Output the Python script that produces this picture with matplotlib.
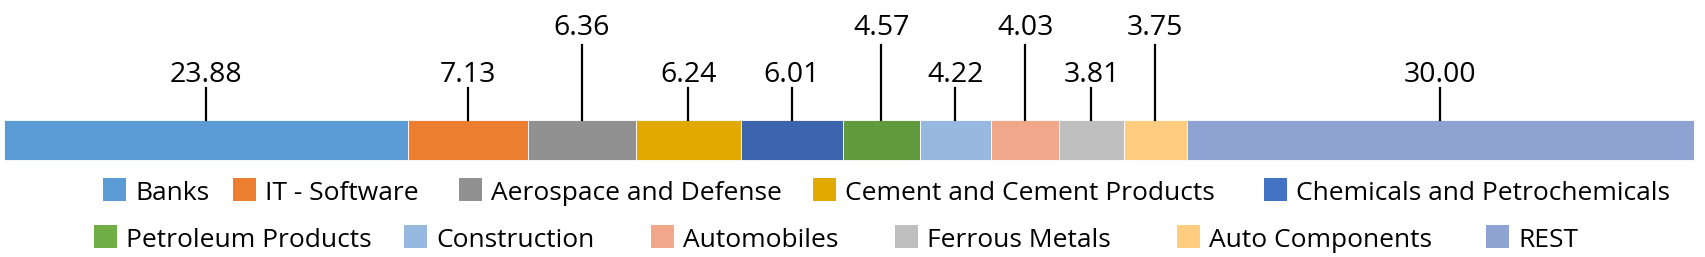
import matplotlib.pyplot as plt
from matplotlib.patches import Rectangle

plt.rcParams['font.family'] = ['Open Sans', 'DejaVu Sans']

# Data
sectors = ['Banks', 'IT - Software', 'Aerospace and Defense', 'Cement and Cement Products',
           'Chemicals and Petrochemicals', 'Petroleum Products', 'Construction',
           'Automobiles', 'Ferrous Metals', 'Auto Components', 'REST']
weights = [23.88, 7.13, 6.36, 6.24, 6.01, 4.57, 4.22, 4.03, 3.81, 3.75, 30.00]

bar_colors = ['#5B9BD5', '#ED7D31', '#919191', '#E2AA00', '#3D65AE', '#629B3E',
              '#98B9DF', '#F1A78A', '#BFBFBF', '#FFCC80', '#8FA3D3']
legend_colors = ['#5B9BD5', '#ED7D31', '#919191', '#E2AA00', '#4472C4', '#70AD47',
                 '#98B9DF', '#F1A78A', '#BFBFBF', '#FFCC80', '#8FA3D3']
high_label = [False, False, True, False, False, True, False, True, False, True, False]

# legend layout (pixels): left edge of each swatch, and row
legend_x = [103, 233, 459, 813, 1264, 94, 404, 651, 895, 1177, 1486]
legend_row = [0, 0, 0, 0, 0, 1, 1, 1, 1, 1, 1]

W, H = 1705, 257
fig = plt.figure(figsize=(W / 100, H / 100), dpi=100)
# axes in pixel-like units: y grows downward
ax = fig.add_axes([4 / W, 0, 1690 / W, 1])
ax.set_xlim(0, sum(weights))
ax.set_ylim(H, 0)
ax.axis('off')

bar_top, bar_bot = 119.5, 160
left = 0
for w, c, hi in zip(weights, bar_colors, high_label):
    ax.barh((bar_top + bar_bot) / 2, w, left=left, height=bar_bot - bar_top,
            color=c, edgecolor='white', linewidth=0.6)
    cx = left + w / 2
    line_top, base_y = (45, 35) if hi else (88, 82)
    ax.plot([cx, cx], [line_top, bar_top], color='black', lw=1.6)
    ax.text(cx, base_y, f'{w:.2f}', ha='center', va='baseline', fontsize=20.5)
    left += w

# legend drawn by hand to follow the reference's uneven spacing
lax = fig.add_axes([0, 0, 1, 1])
lax.set_xlim(0, W)
lax.set_ylim(H, 0)
lax.axis('off')
sq = 23
row_top = [178, 225]
for name, c, x, r in zip(sectors, legend_colors, legend_x, legend_row):
    lax.add_patch(Rectangle((x, row_top[r]), sq, sq, facecolor=c, edgecolor='none'))
    lax.text(x + 32, row_top[r] + sq - 1, name, ha='left', va='baseline', fontsize=19)

fig.savefig('out.png', dpi=100)
